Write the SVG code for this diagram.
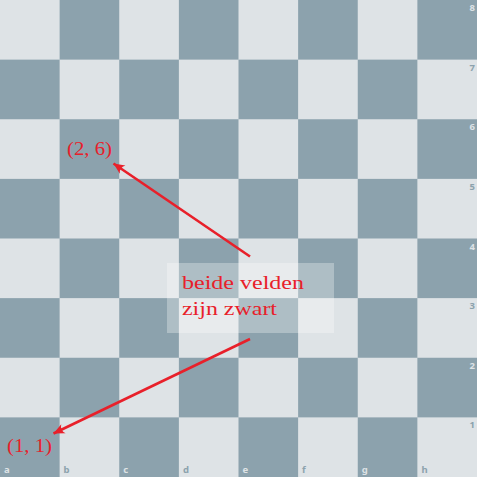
<svg xmlns="http://www.w3.org/2000/svg" width="477" height="477" viewBox="0 0 477 477">
<defs>
<style>
.l{fill:#dee3e6}
.d{fill:#8ca2ad}
.cl{font-family:"Noto Sans","DejaVu Sans",sans-serif;font-size:9.5px;font-weight:bold}
.tl{fill:#dee3e6}
.td{fill:#8ca2ad}
.lbl{font-family:"Liberation Serif","DejaVu Serif",serif;font-size:19px;fill:#e8202a}
.arr{stroke:#e8202a;stroke-width:2.6;fill:none}
</style>
<marker id="ah" markerUnits="userSpaceOnUse" markerWidth="14" markerHeight="12" viewBox="-12 -6 14 12" refX="0" refY="0" orient="auto">
<path d="M0,0 L-11,-5 Q-7,0 -11,5 Z" fill="#e8202a"/>
</marker>
<pattern id="board" x="0" y="0" width="119.25" height="119.25" patternUnits="userSpaceOnUse">
<rect width="119.25" height="119.25" class="l"/>
<rect x="59.625" y="0" width="59.625" height="59.625" class="d"/>
<rect x="0" y="59.625" width="59.625" height="59.625" class="d"/>
</pattern>
</defs>
<g id="board-squares">
<rect width="477" height="477" fill="url(#board)"/>
</g>
<g id="coords">
<text class="cl tl" x="4" y="473">a</text>
<text class="cl td" x="63.6" y="473">b</text>
<text class="cl tl" x="123.3" y="473">c</text>
<text class="cl td" x="182.9" y="473">d</text>
<text class="cl tl" x="242.5" y="473">e</text>
<text class="cl td" x="302.1" y="473">f</text>
<text class="cl tl" x="361.8" y="473">g</text>
<text class="cl td" x="421.4" y="473">h</text>
<g text-anchor="end">
<text class="cl tl" x="475" y="11">8</text>
<text class="cl td" x="475" y="70.6">7</text>
<text class="cl tl" x="475" y="130.3">6</text>
<text class="cl td" x="475" y="189.9">5</text>
<text class="cl tl" x="475" y="249.5">4</text>
<text class="cl td" x="475" y="309.1">3</text>
<text class="cl tl" x="475" y="368.8">2</text>
<text class="cl td" x="475" y="428.4">1</text>
</g>
</g>
<g id="connectors">
<line class="arr" x1="250" y1="256.5" x2="113.5" y2="163.5" marker-end="url(#ah)"/>
<line class="arr" x1="250" y1="339" x2="53.5" y2="433.5" marker-end="url(#ah)"/>
</g>
<g id="label-26">
<text class="lbl" x="67" y="155" textLength="45" lengthAdjust="spacingAndGlyphs">(2, 6)</text>
</g>
<g id="label-11">
<text class="lbl" x="7" y="452" textLength="45" lengthAdjust="spacingAndGlyphs">(1, 1)</text>
</g>
<g id="note">
<rect x="167" y="263" width="167" height="70" fill="#ffffff" fill-opacity="0.3"/>
<text class="lbl" x="182" y="289" textLength="122" lengthAdjust="spacingAndGlyphs">beide velden</text>
<text class="lbl" x="182" y="315" textLength="95" lengthAdjust="spacingAndGlyphs">zijn zwart</text>
</g>
</svg>
